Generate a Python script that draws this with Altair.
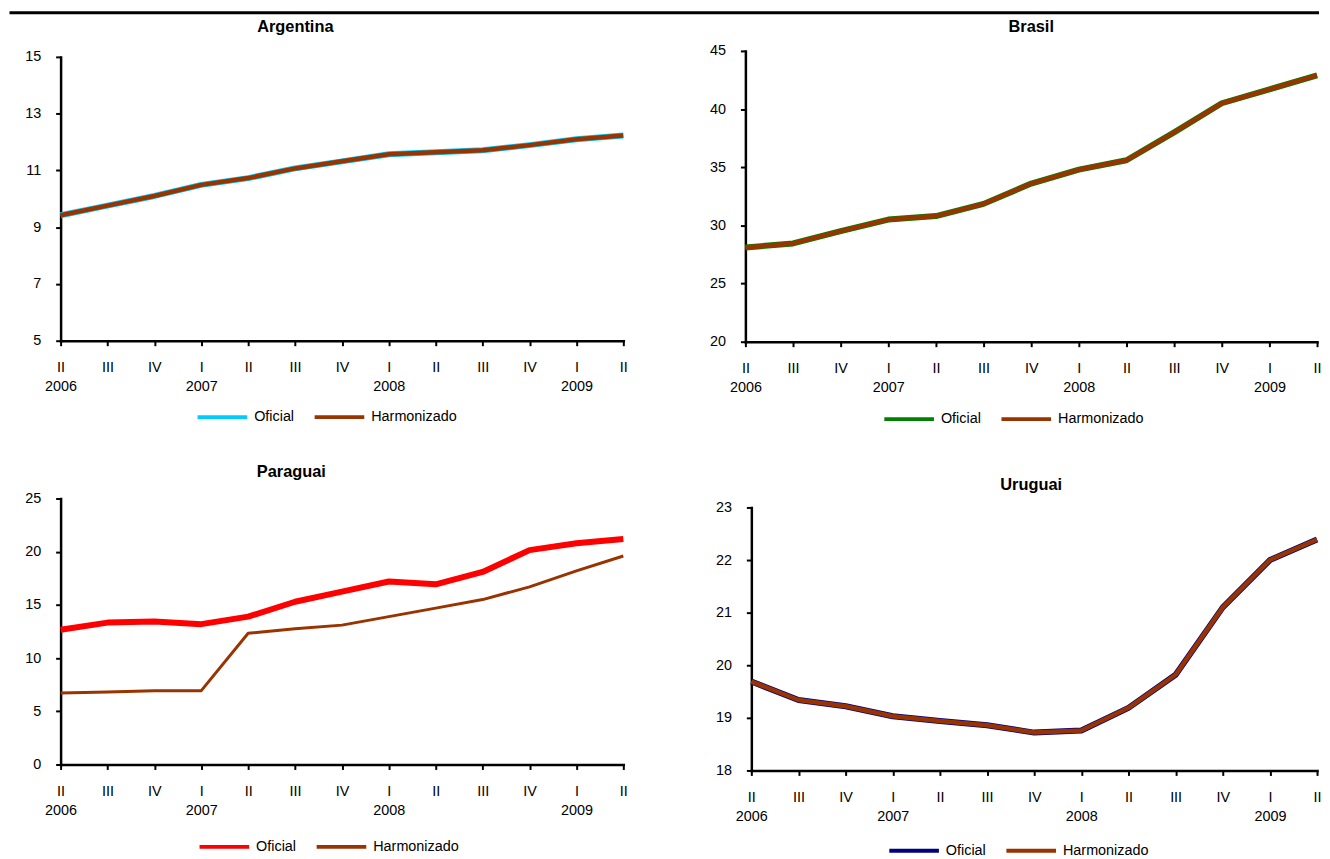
import json
import altair as alt
import pandas as pd

# ---------------- data ----------------
trimestres = ["II", "III", "IV", "I", "II", "III", "IV", "I", "II", "III", "IV", "I", "II"]
anos = ["2006", "", "", "2007", "", "", "", "2008", "", "", "", "2009", ""]
series = ["Oficial", "Harmonizado"]

arg_oficial = [9.42, 9.76, 10.10, 10.49, 10.73, 11.07, 11.32, 11.57, 11.64, 11.71, 11.89, 12.10, 12.23]
arg_harmonizado = [9.42, 9.76, 10.10, 10.49, 10.73, 11.07, 11.32, 11.57, 11.64, 11.71, 11.89, 12.10, 12.23]

bra_oficial = [28.1, 28.45, 29.5, 30.5, 30.8, 31.85, 33.6, 34.8, 35.6, 38.0, 40.5, 41.7, 42.9]
bra_harmonizado = [28.1, 28.45, 29.5, 30.5, 30.8, 31.85, 33.6, 34.8, 35.6, 38.0, 40.5, 41.7, 42.9]

par_oficial = [12.66, 13.34, 13.44, 13.19, 13.9, 15.3, 16.25, 17.2, 16.94, 18.1, 20.15, 20.8, 21.2]
par_harmonizado = [6.72, 6.81, 6.94, 6.94, 12.34, 12.75, 13.1, 13.9, 14.7, 15.5, 16.7, 18.2, 19.6]

uru_oficial = [19.69, 19.34, 19.22, 19.03, 18.94, 18.86, 18.72, 18.76, 19.19, 19.82, 21.1, 22.0, 22.39]
uru_harmonizado = [19.69, 19.34, 19.22, 19.03, 18.94, 18.86, 18.72, 18.76, 19.19, 19.82, 21.1, 22.0, 22.39]

FONT = "Liberation Sans, Arial, sans-serif"
MARROM = "#993300"

rotulos = [[q, a] if a else q for q, a in zip(trimestres, anos)]
label_expr = json.dumps(rotulos) + "[datum.value]"


def painel(titulo, oficial, harmonizado, cores, larguras, ydom, yvals, w, h,
           ytop=0, xmin=0, t_dx=0, t_off=11, t_dy=0, leg_x=136, leg_y=360, extra=None):
    idx = list(range(len(trimestres)))
    df = pd.DataFrame({
        "i": idx * 2,
        "serie": [series[0]] * len(idx) + [series[1]] * len(idx),
        "valor": oficial + harmonizado,
    })
    xs = alt.Scale(domain=[0, len(idx) - 1], nice=False, zero=False, range=[xmin, w])
    x = alt.X("i:Q", scale=xs,
              axis=alt.Axis(values=idx, labelExpr=label_expr, title=None,
                            labelLineHeight=19, labelPadding=15, labelAlign="center",
                            labelBaseline="top", labelFlush=False, labelOverlap=False))
    y = alt.Y("valor:Q",
              scale=alt.Scale(domain=ydom, nice=False, zero=False, range=[h, ytop]),
              axis=alt.Axis(values=yvals, title=None, labelPadding=15, offset=-xmin,
                            labelFlush=False, labelOverlap=False))
    color = alt.Color("serie:N", scale=alt.Scale(domain=series, range=cores),
                      legend=alt.Legend(orient="none", legendX=leg_x, legendY=leg_y,
                                        direction="horizontal", title=None,
                                        symbolType="stroke", symbolSize=2500,
                                        symbolStrokeWidth=4, labelFontSize=14.5,
                                        labelFont=FONT, labelColor="black",
                                        columnPadding=12, labelOffset=5, padding=0))
    base = alt.Chart(df)
    l1 = base.transform_filter(alt.datum.serie == series[0]).mark_line(
        strokeWidth=larguras[0], strokeJoin="round", strokeCap="butt").encode(x=x, y=y, color=color)
    l2 = base.transform_filter(alt.datum.serie == series[1]).mark_line(
        strokeWidth=larguras[1], strokeJoin="round", strokeCap="butt").encode(x=x, y=y, color=color)
    camadas = [l1, l2] + ([extra] if extra is not None else [])
    return alt.layer(*camadas).properties(
        width=w, height=h,
        title=alt.TitleParams(titulo, anchor="middle", frame="group", offset=t_off,
                              dx=t_dx, dy=t_dy, fontSize=16.5, fontWeight="bold",
                              font=FONT, color="black"))


linha_topo = alt.Chart(pd.DataFrame({"r": [0]})).mark_rule(color="black", strokeWidth=3).encode(
    x=alt.value(-51.5), x2=alt.value(1268), y=alt.value(-38.5))

arg = painel("Argentina", arg_oficial, arg_harmonizado, ["#00CCFF", MARROM], [6, 4.5],
             [5, 15], [5, 7, 9, 11, 13, 15], 567, 292, ytop=6, t_dx=-47, t_off=10, t_dy=34,
             leg_x=136, leg_y=342, extra=linha_topo)
bra = painel("Brasil", bra_oficial, bra_harmonizado, ["#008000", MARROM], [6, 4.5],
             [20, 45], [20, 25, 30, 35, 40, 45], 576, 293, t_dx=0, t_off=8,
             leg_x=138, leg_y=344)
par = painel("Paraguai", par_oficial, par_harmonizado, ["#FF0000", MARROM], [6, 3],
             [0, 25], [0, 5, 10, 15, 20, 25], 567, 268, t_dx=-51, t_off=10,
             leg_x=138, leg_y=324)
uru = painel("Uruguai", uru_oficial, uru_harmonizado, ["#000080", MARROM], [6, 4.5],
             [18, 23], [18, 19, 20, 21, 22, 23], 576, 274, ytop=9, xmin=6, t_dx=0, t_off=5,
             leg_x=143, leg_y=328)

chart = alt.concat(arg, bra, par, uru, columns=2,
                   spacing={"row": 158, "column": 114},
                   bounds="flush", align="all").resolve_scale(
    color="independent", x="independent", y="independent"
).resolve_legend(color="independent").properties(
    padding=0
).configure_view(stroke=None).configure_axis(
    domainColor="black", domainWidth=2.5, domainCap="square",
    tickColor="black", tickWidth=2, tickSize=5,
    labelColor="black", labelFontSize=14.5, labelFont=FONT, grid=False
).configure_legend(labelFont=FONT)

chart.save("out.html", embed_options={"renderer": "svg", "actions": False})
